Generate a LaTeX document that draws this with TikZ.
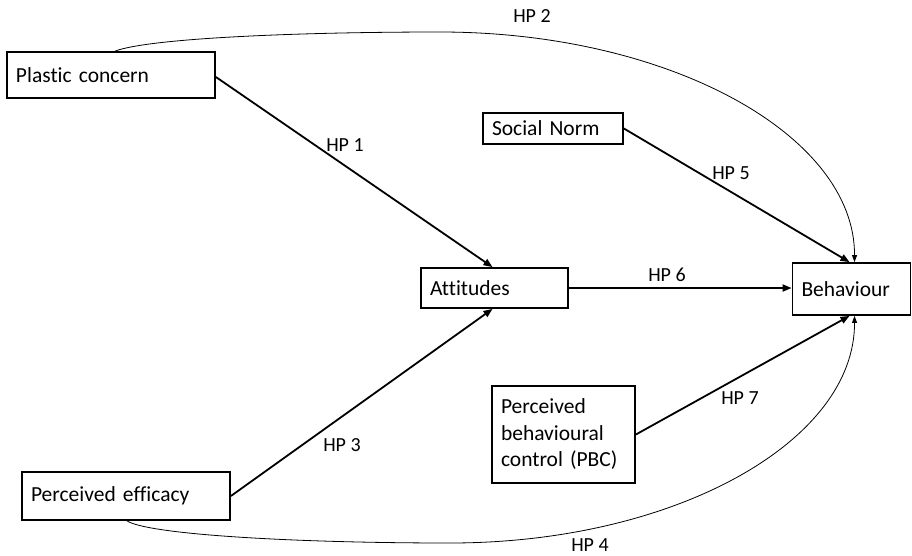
\documentclass[tikz,border=0pt]{standalone}
\usepackage{fontspec}
\setmainfont{Carlito}[Ligatures={NoCommon}]
\usetikzlibrary{arrows.meta}
\begin{document}
\begin{tikzpicture}[x=1pt,y=-1pt,
  box/.style={draw=black, line width=1.8pt, rectangle, inner xsep=8pt, inner ysep=2pt,
    align=left, font=\fontsize{21.5}{26.5}\selectfont, text=black},
  lbl/.style={font=\fontsize{20}{24}\selectfont, text=black, inner sep=0pt},
  strong/.style={line width=1.8pt, -{Triangle[length=9pt,width=7pt]}},
  thin/.style={line width=0.8pt, -{Triangle[length=7pt,width=5pt]}}
]
\useasboundingbox (0,0) rectangle (912,555);
% boxes
\node[box, minimum width=208pt, minimum height=46pt, text width=190pt] (pc) at (111,75) {Plastic concern};
\node[box, minimum width=147pt, minimum height=40pt, text width=129pt] (att) at (494.5,288) {Attitudes};
\node[box, minimum width=118pt, minimum height=52pt, text width=100pt] (beh) at (851.5,289) {Behaviour};
\node[box, minimum width=140pt, minimum height=31pt, text width=122pt] (sn) at (553,128.5) {Social Norm};
\node[box, minimum width=208pt, minimum height=48pt, text width=190pt] (pe) at (126,496) {Perceived efficacy};
\node[box, minimum width=143pt, minimum height=97pt, text width=125pt] (pbc) at (563.5,434.5) {Perceived\\behavioural\\control (PBC)};
% straight connectors
\draw[strong] ([yshift=-2pt]pc.east) -- ([xshift=-2pt]att.north);
\draw[strong] (pe.east) -- ([xshift=-2pt]att.south);
\draw[strong] (att.east) -- (att.east -| beh.west);
\draw[strong] (sn.east) -- ([xshift=-2pt]beh.north);
\draw[strong] (pbc.east) -- ([xshift=-2pt]beh.south);
% curved connectors
\draw[thin] ([xshift=4pt]pc.north) .. controls (150,38) and (300,32) .. (440,32)
  .. controls (669,32) and (855,135) .. ([xshift=3pt]beh.north);
\draw[thin] ([xshift=1pt]pe.south) .. controls (150,535) and (300,543) .. (450,543)
  .. controls (674,543) and (855,442) .. ([xshift=3pt]beh.south);
% labels
\node[lbl] (l1) at (345,145) {HP 1};
\node[lbl] (l2) at (532,16) {HP 2};
\node[lbl] (l3) at (342,445) {HP 3};
\node[lbl] (l4) at (590,545) {HP 4};
\node[lbl] (l5) at (731,173) {HP 5};
\node[lbl] (l6) at (667,275) {HP 6};
\node[lbl] (l7) at (740,398) {HP 7};
\end{tikzpicture}
\end{document}
